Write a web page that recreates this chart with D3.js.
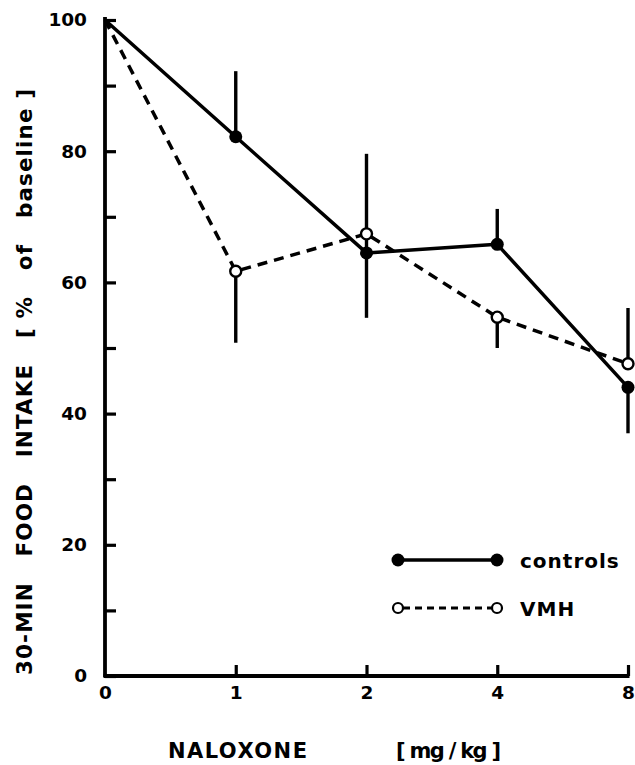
<!DOCTYPE html>
<html>
<head>
<meta charset="utf-8">
<script src="https://cdn.jsdelivr.net/npm/d3@7"></script>
<style>
  html, body { margin: 0; padding: 0; background: #fff; }
  svg text { font-family: "DejaVu Sans", sans-serif; font-weight: bold; fill: #000; white-space: pre; }
</style>
</head>
<body>
<svg id="chart" width="635" height="765"></svg>
<script>
// ---- data ----
const doses = ["0", "1", "2", "4", "8"];
const controls = [100, 82.2, 64.5, 65.8, 44.0];
const controlsUpper = [null, 92.2, 79.6, 71.2, null];
const controlsLower = [null, null, 54.6, null, 37.0];
const vmh = [100, 61.7, 67.4, 54.7, 47.6];
const vmhUpper = [null, null, null, null, 56.1];
const vmhLower = [null, 50.8, null, 50.0, null];
const yTicks = [0, 10, 20, 30, 40, 50, 60, 70, 80, 90, 100];
const yLabelTicks = [0, 20, 40, 60, 80, 100];
const legendNames = ["controls", "VMH"];

const svg = d3.select("#chart");
const x = d3.scalePoint().domain(doses).range([105, 628]);
const y = d3.scaleLinear().domain([0, 100]).range([676, 20]);

// ---- axes ----
const yAxis = d3.axisLeft(y)
  .tickValues(yTicks)
  .tickSizeInner(-11)
  .tickSizeOuter(0)
  .tickPadding(18)
  .tickFormat(d => yLabelTicks.includes(d) ? String(d) : "");
const gy = svg.append("g").attr("transform", "translate(105,0)").call(yAxis);
gy.select(".domain").attr("d", `M0,${y(0) + 1}V${y(100) - 3}`).attr("stroke-width", 3.8);
gy.selectAll(".tick line").attr("stroke-width", 3.2);
gy.selectAll(".tick text").attr("font-size", 18.5).attr("font-family", "DejaVu Sans").attr("font-weight", "bold");

const xAxis = d3.axisBottom(x)
  .tickSizeInner(-11)
  .tickSizeOuter(0)
  .tickPadding(10);
const gx = svg.append("g").attr("transform", `translate(0,${y(0)})`).call(xAxis);
gx.select(".domain").attr("d", `M${x("0") - 1.5},0H${x("8") + 1.5}`).attr("stroke-width", 3.8);
gx.selectAll(".tick line").attr("stroke-width", 3.2).attr("opacity", (d, i) => i === 0 ? 0 : 1);
gx.selectAll(".tick text").attr("font-size", 18.5).attr("font-family", "DejaVu Sans").attr("font-weight", "bold");

// ---- axis titles ----
svg.append("text")
  .attr("transform", "translate(32,382) rotate(-90)")
  .attr("text-anchor", "middle")
  .attr("font-size", 21.5)
  .attr("textLength", 586)
  .attr("lengthAdjust", "spacing")
  .text("30-MIN   FOOD   INTAKE   [ %   of   baseline ]");

svg.append("text")
  .attr("x", 168).attr("y", 758)
  .attr("font-size", 21)
  .attr("textLength", 139)
  .attr("lengthAdjust", "spacing")
  .text("NALOXONE");
svg.append("text")
  .attr("x", 396).attr("y", 758)
  .attr("font-size", 21)
  .attr("textLength", 105)
  .attr("lengthAdjust", "spacing")
  .text("[ mg / kg ]");

// ---- series ----
const line = d3.line().x((d, i) => x(doses[i])).y(d => y(d));

svg.append("path").datum(controls)
  .attr("d", line).attr("fill", "none").attr("stroke", "#000")
  .attr("stroke-width", 3.5).attr("stroke-linejoin", "round");
svg.append("path").datum(vmh)
  .attr("d", line).attr("fill", "none").attr("stroke", "#000")
  .attr("stroke-width", 3.5).attr("stroke-dasharray", "10,7");

function errorBars(vals, upper, lower) {
  const segs = [];
  vals.forEach((v, i) => {
    if (upper[i] != null) segs.push([doses[i], v, upper[i]]);
    if (lower[i] != null) segs.push([doses[i], v, lower[i]]);
  });
  svg.append("g").selectAll("line").data(segs).join("line")
    .attr("x1", d => x(d[0])).attr("x2", d => x(d[0]))
    .attr("y1", d => y(d[1])).attr("y2", d => y(d[2]))
    .attr("stroke", "#000").attr("stroke-width", 3.4);
}
errorBars(controls, controlsUpper, controlsLower);
errorBars(vmh, vmhUpper, vmhLower);

// markers (skip the shared origin point)
svg.append("g").selectAll("circle").data(controls.slice(1)).join("circle")
  .attr("cx", (d, i) => x(doses[i + 1])).attr("cy", d => y(d))
  .attr("r", 6.5).attr("fill", "#000");
svg.append("g").selectAll("circle").data(vmh.slice(1)).join("circle")
  .attr("cx", (d, i) => x(doses[i + 1])).attr("cy", d => y(d))
  .attr("r", 5.5).attr("fill", "#fff").attr("stroke", "#000").attr("stroke-width", 2.4);

// ---- legend ----
const lg = svg.append("g");
const legY = [560, 608];
const lx1 = 398, lx2 = 497;
lg.append("line").attr("x1", lx1).attr("x2", lx2).attr("y1", legY[0]).attr("y2", legY[0])
  .attr("stroke", "#000").attr("stroke-width", 3.4);
[lx1, lx2].forEach(cx => lg.append("circle").attr("cx", cx).attr("cy", legY[0]).attr("r", 6.5).attr("fill", "#000"));
lg.append("line").attr("x1", lx1 + 5).attr("x2", lx2 - 5).attr("y1", legY[1]).attr("y2", legY[1])
  .attr("stroke", "#000").attr("stroke-width", 2.8).attr("stroke-dasharray", "7,5");
[lx1, lx2].forEach(cx => lg.append("circle").attr("cx", cx).attr("cy", legY[1]).attr("r", 5)
  .attr("fill", "#fff").attr("stroke", "#000").attr("stroke-width", 2.2));
lg.selectAll("text").data(legendNames).join("text")
  .attr("x", 520).attr("y", (d, i) => legY[i] + 7.5)
  .attr("font-size", 20)
  .attr("letter-spacing", 1)
  .text(d => d);
</script>
</body>
</html>
